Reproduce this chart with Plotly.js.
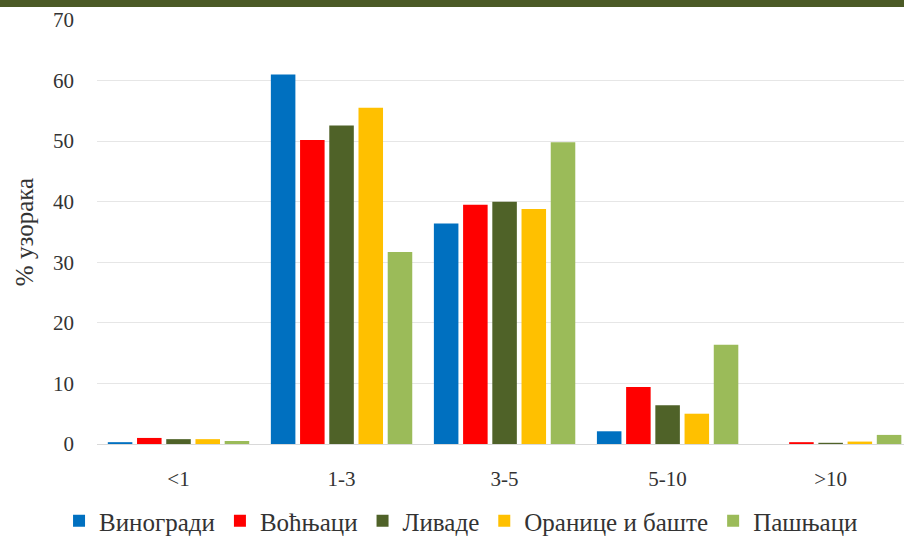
<!DOCTYPE html>
<html>
<head>
<meta charset="utf-8">
<script src="https://cdn.plot.ly/plotly-3.0.1.min.js"></script>
<style>
html,body{margin:0;padding:0;background:#fff;}
#topbar{position:absolute;left:0;top:0;width:904px;height:7px;background:#4B5A26;z-index:10;}
#chart{width:904px;height:544px;}
</style>
</head>
<body>
<div id="topbar"></div>
<div id="chart"></div>
<script>
const categories = ['<1', '1-3', '3-5', '5-10', '>10'];
const seriesNames = ['Виногради', 'Воћњаци', 'Ливаде', 'Оранице и баште', 'Пашњаци'];
const vinogradi = [0.3, 61.0, 36.4, 2.1, 0.0];
const vocnjaci = [1.0, 50.2, 39.5, 9.4, 0.3];
const livade = [0.8, 52.6, 40.0, 6.4, 0.2];
const oranice = [0.8, 55.5, 38.8, 5.0, 0.4];
const pasnjaci = [0.5, 31.7, 49.8, 16.4, 1.5];
const colors = ['#0070C0', '#FF0000', '#4F6228', '#FFC000', '#9BBB59'];
const values = [vinogradi, vocnjaci, livade, oranice, pasnjaci];

const font = 'Liberation Serif, Times New Roman, serif';
const traces = values.map((v, i) => ({
  type: 'bar',
  name: seriesNames[i],
  x: categories,
  y: v,
  marker: {color: colors[i]},
  hoverinfo: 'none'
}));

const layout = {
  width: 904,
  height: 544,
  margin: {l: 97, r: 0, t: 20, b: 100},
  barmode: 'group',
  bargap: 0.104,
  bargroupgap: 0.16,
  paper_bgcolor: '#ffffff',
  plot_bgcolor: '#ffffff',
  font: {family: font, size: 20, color: '#333333'},
  xaxis: {
    type: 'category',
    range: [-0.5, 4.45],
    showgrid: false,
    showline: true,
    linecolor: '#d9d9d9',
    linewidth: 1,
    ticks: '',
    ticklabelstandoff: 16,
    tickfont: {family: font, size: 21, color: '#333333'},
    zeroline: false
  },
  yaxis: {
    range: [0, 70],
    dtick: 10,
    showgrid: true,
    gridcolor: '#e6e6e6',
    gridwidth: 1,
    zeroline: false,
    showline: false,
    ticks: '',
    ticklabelstandoff: 22,
    tickfont: {family: font, size: 21, color: '#333333'},
    title: {text: '% узорака', font: {family: font, size: 25, color: '#333333'}, standoff: 12}
  },
  showlegend: true,
  legend: {
    orientation: 'h',
    xref: 'container',
    yref: 'container',
    x: 0.51,
    xanchor: 'center',
    y: -0.015,
    yanchor: 'bottom',
    font: {family: font, size: 25, color: '#333333'},
    itemwidth: 30,
    tracegroupgap: 0,
    traceorder: 'normal'
  }
};

Plotly.newPlot('chart', traces, layout, {displayModeBar: false, staticPlot: true});
</script>
</body>
</html>
